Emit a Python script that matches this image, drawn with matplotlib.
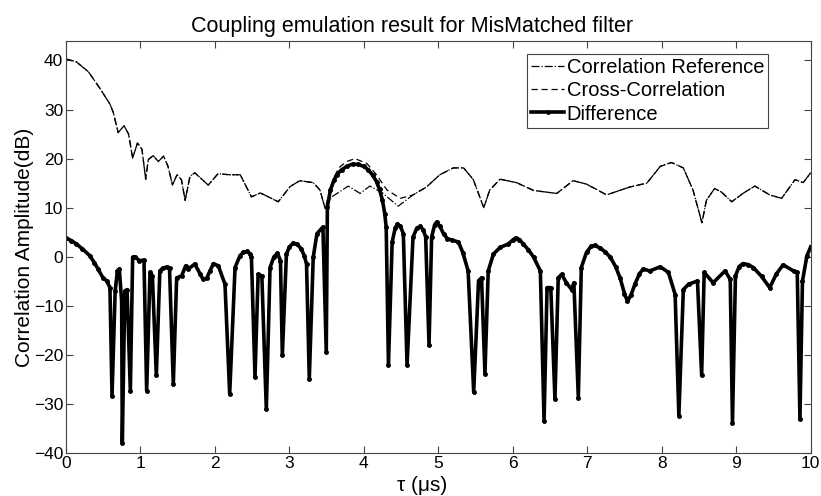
import matplotlib
matplotlib.use("Agg")
import matplotlib.pyplot as plt

plt.rcParams['font.family'] = ['Liberation Sans', 'DejaVu Sans']

# Correlation Reference (dash-dot)
ref_x = [0.0, 0.14, 0.30, 0.46, 0.59, 0.635, 0.70, 0.78, 0.84, 0.895,
         0.96, 1.02, 1.07, 1.105, 1.17, 1.24, 1.31, 1.37, 1.43, 1.49,
         1.55, 1.60, 1.665, 1.73, 1.91, 2.04, 2.20, 2.34, 2.49, 2.61,
         2.85, 3.01, 3.14, 3.32, 3.41, 3.48, 3.57, 3.79, 3.95, 4.08,
         4.25, 4.46, 4.66, 4.84, 5.02, 5.20, 5.34, 5.47, 5.61, 5.69,
         5.83, 6.05, 6.28, 6.59, 6.81, 6.99, 7.26, 7.57, 7.80, 7.98,
         8.13, 8.29, 8.42, 8.54, 8.60, 8.71, 8.80, 8.94, 9.10, 9.25,
         9.45, 9.61, 9.79, 9.90, 10.0]
ref_y = [40.3, 39.7, 37.7, 34.2, 31.1, 29.4, 25.3, 26.7, 25.0, 20.1,
         23.2, 21.9, 15.8, 19.8, 20.6, 19.4, 20.5, 18.4, 14.6, 16.7,
         15.7, 11.5, 16.4, 17.1, 14.6, 16.9, 16.7, 16.7, 12.2, 13.0,
         11.2, 14.3, 15.5, 15.1, 13.6, 9.8, 12.2, 14.4, 12.9, 14.4,
         13.0, 10.3, 12.6, 14.2, 16.7, 18.1, 18.1, 15.7, 10.0, 13.6,
         15.8, 15.1, 13.5, 12.9, 15.5, 14.8, 12.6, 14.2, 15.0, 18.4,
         19.2, 18.1, 13.6, 6.9, 11.5, 13.9, 13.2, 11.2, 13.0, 14.4,
         12.6, 11.9, 15.7, 15.1, 17.1]

# Cross-Correlation (dashed): follows the reference except around the main lobe
lobe_x = [3.57, 3.66, 3.77, 3.88, 4.04, 4.17, 4.31, 4.49]
lobe_y = [15.0, 18.1, 19.4, 20.0, 19.0, 16.7, 13.6, 11.9]
cross_x = ref_x[:36] + lobe_x + ref_x[42:]
cross_y = ref_y[:36] + lobe_y + ref_y[42:]

# Difference (thick, dotted markers)
diff_x = [0.0, 0.07, 0.14, 0.22, 0.32, 0.38, 0.43, 0.50, 0.547, 0.59,
          0.618, 0.66, 0.69, 0.716, 0.747, 0.756, 0.79, 0.82, 0.864, 0.895,
          0.926, 0.985, 1.047, 1.083, 1.128, 1.16, 1.213, 1.26, 1.30, 1.36,
          1.39, 1.441, 1.486, 1.553, 1.607, 1.64, 1.73, 1.80, 1.84, 1.89,
          1.93, 1.98, 2.045, 2.135, 2.198, 2.27, 2.336, 2.38, 2.435, 2.47,
          2.49, 2.538, 2.58, 2.63, 2.69, 2.74, 2.79, 2.84, 2.88, 2.905,
          2.96, 3.00, 3.05, 3.10, 3.16, 3.20, 3.23, 3.267, 3.32, 3.37,
          3.45, 3.495, 3.51, 3.55, 3.60, 3.635, 3.70, 3.77, 3.85, 3.925,
          4.00, 4.06, 4.12, 4.17, 4.21, 4.25, 4.28, 4.30, 4.33, 4.38,
          4.42, 4.45, 4.49, 4.53, 4.58, 4.66, 4.71, 4.76, 4.80, 4.83,
          4.875, 4.91, 4.95, 4.98, 5.02, 5.07, 5.12, 5.18, 5.27, 5.33,
          5.40, 5.475, 5.54, 5.58, 5.626, 5.67, 5.74, 5.83, 5.94, 6.00,
          6.04, 6.09, 6.14, 6.21, 6.28, 6.37, 6.42, 6.46, 6.51, 6.566,
          6.61, 6.655, 6.72, 6.79, 6.82, 6.88, 6.92, 6.99, 7.05, 7.10,
          7.17, 7.24, 7.31, 7.38, 7.44, 7.50, 7.54, 7.59, 7.64, 7.70,
          7.75, 7.84, 7.98, 8.09, 8.18, 8.23, 8.29, 8.36, 8.48, 8.536,
          8.57, 8.69, 8.85, 8.92, 8.95, 8.99, 9.04, 9.09, 9.16, 9.23,
          9.34, 9.45, 9.54, 9.63, 9.77, 9.82, 9.856, 9.89, 9.95, 10.0]
diff_y = [3.8, 3.3, 2.6, 1.6, 0.2, -1.2, -2.5, -4.4, -4.9, -6.3,
          -28.3, -7.0, -2.9, -2.5, -9.1, -37.9, -7.0, -6.7, -27.3, -0.1,
          0.0, -0.8, -0.7, -27.3, -3.2, -3.9, -24.2, -2.9, -2.3, -2.1,
          -2.4, -25.9, -4.3, -3.9, -1.85, -2.5, -1.5, -3.5, -4.6, -4.4,
          -3.0, -1.4, -1.85, -5.6, -28.0, -2.2, 0.2, 0.9, 1.1, 0.6,
          -0.1, -24.5, -3.6, -3.9, -31.1, -2.2, -0.1, 0.7, -0.8, -20.1,
          0.55, 2.0, 2.75, 2.6, 1.6, 0.2, -1.5, -24.9, -0.1, 4.7,
          6.05, -19.4, 10.2, 13.6, 15.6, 16.7, 17.7, 18.4, 18.9, 18.8,
          18.4, 17.7, 16.6, 15.3, 13.7, 11.5, 8.8, 6.0, -22.1, 3.0,
          5.8, 6.7, 6.2, 4.7, -22.1, 4.0, 5.8, 6.2, 5.4, 4.0,
          -18.0, 4.0, 6.5, 7.1, 6.2, 4.7, 3.7, 3.4, 3.0, 0.8,
          -2.9, -27.6, -4.9, -4.3, -23.8, -2.9, 0.55, 1.9, 2.6, 3.4,
          3.85, 3.5, 2.6, 1.4, -0.1, -2.9, -33.5, -6.3, -6.3, -29.0,
          -4.3, -3.6, -5.3, -6.7, -5.3, -28.7, -2.2, 0.9, 2.1, 2.3,
          1.8, 1.0, -0.1, -2.0, -4.3, -7.5, -9.1, -7.7, -5.6, -3.5,
          -2.5, -2.9, -2.05, -3.2, -7.7, -32.4, -6.7, -5.6, -4.95, -24.2,
          -3.2, -5.3, -2.9, -4.6, -33.8, -3.9, -2.0, -1.4, -1.6, -2.2,
          -4.0, -6.3, -3.5, -1.65, -2.9, -3.2, -33.1, -4.95, 0.2, 2.0]

fig = plt.figure(figsize=(8.21, 4.96), dpi=100)
ax = fig.add_axes([0.0804, 0.0867, 0.907, 0.831])

ax.plot(ref_x, ref_y, color='black', lw=0.9, ls='-.', label='Correlation Reference')
ax.plot(cross_x, cross_y, color='black', lw=0.9, ls='--', dashes=(5, 3), label='Cross-Correlation')
ax.plot(diff_x, diff_y, color='black', lw=2.6, marker='.', ms=5, label='Difference')

ax.set_xlim(0, 10)
ax.set_ylim(-40, 44)
ax.set_xticks(range(0, 11))
ax.set_yticks(range(-40, 41, 10))
ax.tick_params(direction='in', top=True, right=True, labelsize=12.5, length=5,
               colors='#444444', labelcolor='black', pad=2)
for s in ax.spines.values():
    s.set_color('#444444')
    s.set_linewidth(0.8)

ttl = ax.set_title('Coupling emulation result for MisMatched filter', fontsize=15.5, pad=6)
ttl.set_x(0.465)
ax.set_xlabel('τ (μs)', fontsize=15, labelpad=2)
ax.xaxis.set_label_coords(0.478, -0.055)
ax.set_ylabel('Correlation Amplitude(dB)', fontsize=15, labelpad=0)

leg = ax.legend(loc='upper right', bbox_to_anchor=(0.943, 0.967), borderaxespad=0,
                fontsize=14.5, handlelength=1.6, handletextpad=0.15, borderpad=0.2,
                labelspacing=0.2, fancybox=False, framealpha=1)
leg.get_frame().set_edgecolor('#444444')
leg.get_frame().set_linewidth(0.8)

fig.savefig('out.png', dpi=100)
